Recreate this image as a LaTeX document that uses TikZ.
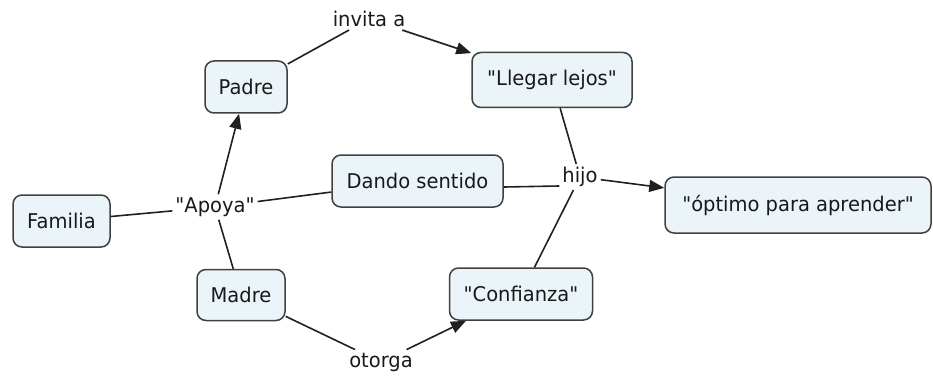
\documentclass[tikz,border=0pt]{standalone}
\usepackage{fontspec}
\newfontfamily\cmapfont{DejaVu Sans}[FakeStretch=0.96]
\usetikzlibrary{arrows.meta}
\definecolor{boxfill}{HTML}{EBF5F9}
\definecolor{boxline}{HTML}{404040}
\definecolor{linkline}{HTML}{202020}
\begin{document}
\begin{tikzpicture}[x=1pt,y=-1pt,
  concept/.style={draw=boxline, line width=1.5pt, fill=boxfill, rounded corners=9pt,
    inner sep=0pt, font=\cmapfont\fontsize{20.3}{23}\selectfont, text=black!90},
  linklabel/.style={inner sep=3pt, font=\cmapfont\fontsize{20.3}{23}\selectfont, text=black!90},
  link/.style={draw=linkline, line width=1.6pt},
  arr/.style={link, -{Triangle[length=15pt,width=12pt]}}]
\useasboundingbox (0,0) rectangle (933,377);
% concepts
\node[concept, minimum width=97pt, minimum height=52pt] (familia) at (61.5,221) {Familia};
\node[concept, minimum width=82pt, minimum height=52pt] (padre) at (246,87) {Padre};
\node[concept, minimum width=160pt, minimum height=55pt] (llegar) at (552,80) {"Llegar lejos"};
\node[concept, minimum width=171pt, minimum height=52pt] (dando) at (417.5,181) {Dando sentido};
\node[concept, minimum width=266pt, minimum height=56pt] (optimo) at (798,205) {"óptimo para aprender"};
\node[concept, minimum width=88pt, minimum height=51pt] (madre) at (241,295) {Madre};
\node[concept, minimum width=143pt, minimum height=52pt] (confianza) at (521,294) {"Confianza"};
% linking phrases
\node[linklabel] (apoya) at (215,207) {"Apoya"};
\node[linklabel] (invita) at (369,19) {invita a};
\node[linklabel] (hijo) at (580,177) {hijo};
\node[linklabel] (otorga) at (381,362) {otorga};
% connectors
\draw[link] (familia) -- (apoya);
\draw[arr] (apoya) -- (padre);
\draw[link] (apoya) -- (madre);
\draw[link] (apoya) -- (dando);
\draw[link] (padre) -- (invita);
\draw[arr] (invita) -- (llegar);
\draw[link] (llegar) -- (hijo);
\draw[link] ([yshift=-6pt]dando.east) -- ([yshift=-9pt]hijo.west);
\draw[link] (confianza) -- (hijo);
\draw[arr] (hijo) -- (optimo);
\draw[link] (madre) -- (otorga);
\draw[arr] (otorga) -- (confianza);
\end{tikzpicture}
\end{document}
